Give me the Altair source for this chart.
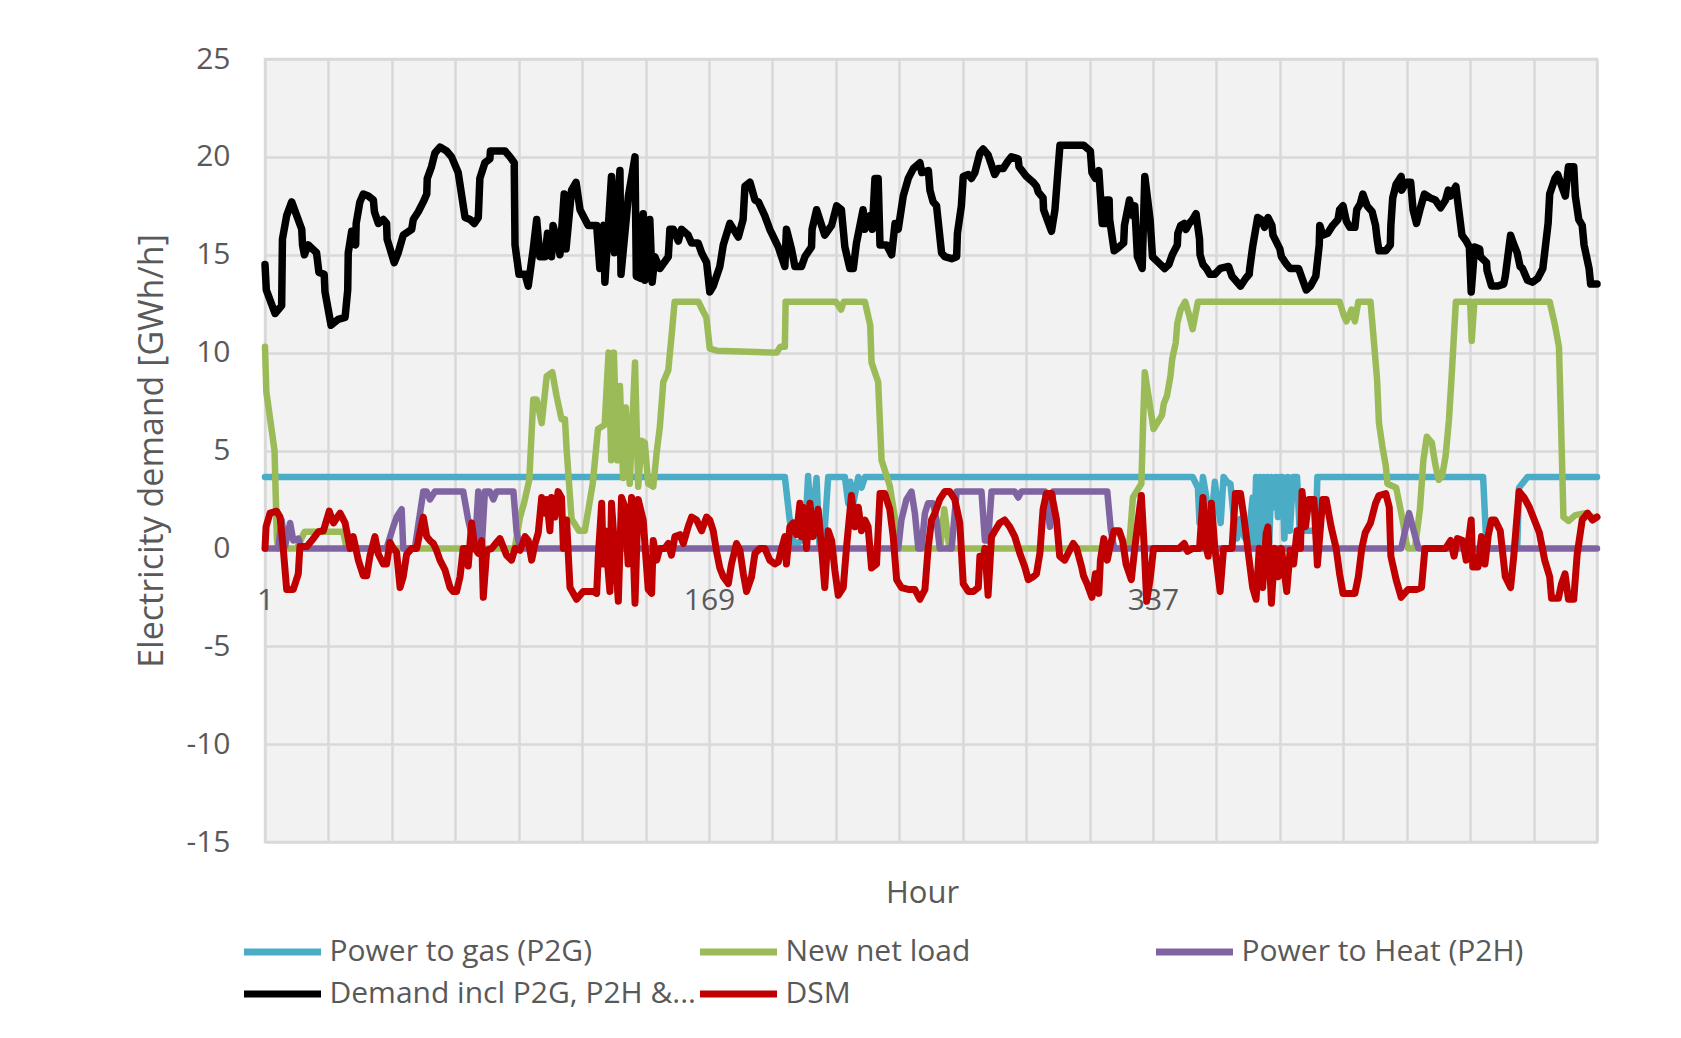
import altair as alt
import pandas as pd

SERIES = ["Power to gas (P2G)", "New net load", "Power to Heat (P2H)",
          "Demand incl P2G, P2H &...", "DSM"]
COLORS = ["#4BACC6", "#9BBB59", "#8064A2", "#000000", "#C00000"]
WIDTHS = [6.5, 6.5, 6.5, 7.5, 7]

X_GRID = list(range(1, 506, 24))
X_LABELED = [1, 169, 337]
Y_TICKS = list(range(-15, 26, 5))

# (hour, GWh/h) points
p2g_pts = [(1,3.65),(197.7,3.65),(199.5,1.5),(200.9,0.3),(203,0.3),(205.3,0.6),(206.5,3.7),(207.8,0.9),
(209.7,3.6),(210.8,0.1),(212.8,1.0),(214.1,3.65),(220.4,3.65),(221.7,2.3),(222.5,3.4),(223.6,2.3),
(225.5,3.65),(226.7,3.1),(228,3.65),(352,3.65),(354,3.1),(354.6,1.3),(355.9,3.65),(357.2,2.6),
(358.5,0.5),(360.4,3.4),(361.7,2.0),(362.6,1.3),(363.7,3.65),(365,3.4),(366.3,3.3),(367.6,1.5),
(368.8,0.5),(370,1.5),(371.5,0.6),(373,0.3),(374.7,2.6),(375.3,0),(376,3.65),(376.7,0),(377.4,3.65),
(378,0.3),(378.8,3.65),(379.5,0.2),(380.3,3.65),(381,0.3),(381.8,3.65),(382.8,2.1),(383.5,3.65),
(384.3,1.6),(385,3.65),(386,3.65),(386.7,0.5),(388,3.65),(388.8,0.9),(390,3.65),(391.5,3.65),
(392.5,0.9),(398.6,0.9),(399.2,3.65),(461.9,3.65),(463.2,0),(474.8,0),(475.5,3.1),(478.7,3.65),(505,3.65)]

netload_pts = [(1,10.3),(1.5,8.0),(4.6,5.0),(5.5,0.5),(6,0),(13,0),(16,0.85),(30.6,0.85),(31.9,0),
(95.5,0),(97.5,1.6),(99,2.3),(101,3.5),(102.5,7.6),(103.8,7.6),(105.7,6.4),(107.6,8.8),(109.7,9.0),
(111.3,7.8),(113.2,6.6),(114.5,6.6),(115.1,5.1),(117,1.5),(119.8,0.9),(122,0.9),(125,3.3),(127,6.1),
(129.5,6.3),(131,10.0),(132,4.5),(133,10.0),(134.3,4.5),(135.3,8.3),(136.5,3.6),(137.5,7.2),(139,3.3),
(141,9.5),(142.2,3.15),(143.5,5.5),(144.7,5.4),(146,3.3),(147.9,3.15),(149.2,4.9),(150.4,6.2),
(151.7,8.5),(153.6,9.1),(154,9.7),(154.8,10.8),(156,12.6),(165,12.6),(166.8,12.1),(168,11.8),
(169.3,10.2),(172,10.1),(194.6,10.0),(196,10.3),(197.7,10.3),(198,12.6),(217,12.6),(219,12.2),
(220,12.6),(228,12.6),(230,11.4),(230.5,9.5),(233,8.5),(234.3,4.5),(237.4,3.2),(239.3,1.6),(240.6,0),
(256.5,0),(258,2.0),(260,0),(327.5,0),(328.1,0.3),(329.4,2.6),(332.6,3.3),(333.3,6.6),(333.9,9.0),
(337.2,6.1),(340.4,6.8),(341.1,7.4),(342.3,7.8),(343.6,8.8),(344.3,9.7),(345.6,10.5),(346.2,11.5),
(347.5,12.2),(349.2,12.6),(350.7,11.9),(352,11.2),(354,12.6),(407.6,12.6),(409.2,11.9),(410.2,11.6),
(412.1,12.2),(413.4,11.6),(414.7,12.6),(419.3,12.6),(420.5,10.7),(421.8,8.6),(422.5,6.4),(423.8,5.2),
(425.1,4.2),(425.7,3.3),(429,3.1),(430.2,2.3),(431.5,1.4),(432.8,0.3),(433.5,0),(436.1,0),(438,2.0),
(439.3,4.5),(440.6,5.7),(442.5,5.4),(443.8,4.3),(445.1,3.5),(446.4,3.7),(447.7,4.7),(449,6.6),
(450,8.8),(451.6,12.6),(457,12.6),(457.6,10.6),(458.6,12.6),(487.1,12.6),(489.1,11.4),(490.6,10.3),
(491.2,7.4),(492.3,1.6),(494.2,1.4),(496.8,1.7),(500.7,1.8),(503.3,1.6),(505,1.6)]

p2h_pts = [(1,0),(6,0),(7.3,1.45),(8.6,0.1),(10.5,1.3),(11.7,0.4),(13.6,0.5),(14.9,0),(47,0),
(49.5,1.1),(50.8,1.6),(52.7,2.0),(53.3,0),(57.7,0),(59,1.2),(60.9,2.9),(62.2,2.9),(63.4,2.5),
(65.3,2.9),(76,2.9),(77.9,1.45),(80.4,0),(81.7,2.9),(83,0),(84.2,2.9),(86.1,2.9),(87.4,2.5),
(88.6,2.9),(95,2.9),(96.2,0.85),(97.5,0),(240.6,0),(241.8,1.45),(243.7,2.5),(245.6,2.9),(246.9,1.8),
(248.2,0),(249.4,0),(250.7,1.8),(251.9,2.3),(253.8,2.3),(255.1,1.45),(256.3,0),(260.8,0),(262.7,2.9),
(272.1,2.9),(273.4,0.4),(274.6,0.4),(275.9,2.9),(284.7,2.9),(286,2.6),(287.2,2.9),(296.1,2.9),
(298,1.1),(299.2,2.9),(319.7,2.9),(321,1.0),(322.3,0),(430.9,0),(433.9,1.8),(437.4,0),(505,0)]

demand_pts = [(1,14.5),(1.5,13.2),(4.8,12.0),(7.3,12.4),(7.6,15.8),(9.2,17.0),(11.1,17.7),(14.9,16.3),
(15.2,15.5),(15.9,15.0),(17.4,15.5),(20.5,15.1),(21.4,14.1),(23.4,14.0),(23.7,13.1),(26,11.4),
(28.7,11.7),(31.3,11.8),(32.3,13.2),(32.5,15.1),(33.8,16.2),(35.3,15.5),(35.5,16.6),(36.9,17.7),
(38.2,18.1),(40.1,18.0),(42,17.8),(42.4,17.2),(43.9,16.6),(45.8,16.8),(47,16.6),(47.2,15.8),
(49.9,14.6),(51.4,15.1),(53.3,16.0),(56.5,16.3),(57.1,16.8),(59,17.2),(60.9,17.7),(62.2,18.1),
(62.4,18.9),(64,19.5),(65.3,20.2),(67.2,20.5),(69.7,20.3),(71.6,20.0),(74.1,19.2),(76.7,16.9),
(78.6,16.8),(80.2,16.6),(81.7,16.9),(82.3,18.9),(84.2,19.7),(86.1,19.9),(86.3,20.3),(91.8,20.3),
(93.7,20.0),(95.3,19.7),(95.6,15.5),(97.1,14.0),(99.4,14.0),(100.6,13.4),(102.5,15.3),(103.8,16.8),
(105,14.9),(106.9,14.9),(107.9,16.1),(109.4,14.9),(110,16.5),(111.3,15.8),(112.6,15.0),(114.2,18.1),
(114.9,15.3),(117,18.3),(118.7,18.7),(120.2,17.3),(123.3,16.5),(126.5,16.5),(127.7,14.3),(129.2,16.5),
(129.6,13.6),(132.1,19.0),(133.2,15.1),(135.3,19.3),(135.7,14.0),(138.5,18.0),(141,20.0),(141.5,13.9),
(143,13.8),(144.1,17.1),(144.7,13.7),(146.6,16.8),(147.5,13.6),(148.5,14.9),(150.4,14.3),(153.6,14.9),
(154.2,16.3),(155.5,16.3),(157.4,15.7),(158.6,16.3),(161.1,16.0),(162.4,15.6),(164.9,15.6),
(166.2,15.1),(168.1,14.6),(169.3,13.1),(170.6,13.4),(173.1,14.4),(174.4,15.5),(176.9,16.6),
(180.1,15.9),(181.9,16.8),(182.6,18.5),(184.5,18.7),(186.4,17.8),(187.7,17.7),(190.1,17.0),(192,16.3),
(195.2,15.4),(197.7,14.4),(198.3,16.3),(200.2,15.3),(201.5,14.4),(204,14.4),(205.3,14.9),(207.8,15.4),
(208,16.3),(209.7,17.3),(212.8,16.0),(215.4,16.5),(217.3,17.5),(219.1,17.3),(220.4,15.4),(222.3,14.3),
(223.6,14.3),(224.8,15.6),(227.3,17.3),(228,16.3),(229.9,17.0),(230.8,16.3),(231.8,18.9),(233,18.9),
(233.7,15.5),(236.2,15.5),(238.1,15.0),(239.4,16.6),(240.6,16.3),(242.5,18.0),(244.4,18.9),
(246.3,19.4),(248.8,19.7),(249.5,19.2),(252,19.3),(252.6,18.3),(253.8,17.7),(255.1,17.5),(257,15.1),
(258.2,14.9),(260.8,14.8),(262.7,14.9),(263,16.1),(264.5,17.5),(265.2,19.0),(267.1,19.1),(268.3,18.9),
(269.6,19.2),(271.5,20.2),(272.7,20.4),(274.6,20.1),(277.1,19.1),(278.4,19.4),(280.3,19.4),
(282.2,19.8),(283.4,20.0),(286,19.9),(286.3,19.5),(289.1,19.0),(291.7,18.7),(292.9,18.5),(293.6,18.2),
(295.4,17.9),(295.6,17.3),(298.6,16.2),(299.9,17.3),(301.1,19.4),(301.8,20.6),(308.7,20.6),
(310.7,20.6),(313.3,20.3),(313.9,19.2),(315.2,18.9),(316.5,19.3),(317.8,16.6),(319.1,16.6),
(319.3,17.8),(320.4,17.8),(320.6,16.8),(322.3,15.2),(324.2,15.4),(325.9,15.6),(326.2,16.5),
(328.1,17.8),(329.4,17.0),(330.1,17.5),(331.1,14.9),(332.9,14.3),(333.9,19.0),(335.9,16.8),
(336.8,14.9),(339.1,14.6),(341.4,14.3),(343,14.5),(344.3,15.0),(346.2,15.5),(346.4,16.1),(347.5,16.5),
(348.8,16.6),(349.5,16.3),(350.7,16.6),(352,16.8),(353.3,17.1),(354.6,15.8),(354.8,15.0),(355.9,14.5),
(357.2,14.3),(358.5,14.0),(360.4,14.0),(362.4,14.3),(365.6,14.4),(366.9,13.9),(368.2,13.7),
(370.1,13.4),(372.1,13.8),(373.4,14.0),(373.6,14.3),(374.7,15.4),(376.6,16.9),(377.9,16.8),
(379.2,16.4),(380.5,16.9),(382,16.5),(382.4,16.0),(385,15.3),(385.6,14.9),(387.6,14.5),(388.9,14.3),
(392.1,14.3),(393.4,13.8),(395,13.2),(396.6,13.4),(398.6,13.9),(399.9,15.5),(400.1,16.5),(401.2,16.0),
(403.1,16.1),(405,16.5),(407,16.8),(407.6,17.3),(408.9,17.5),(410.2,16.7),(411.5,16.4),(413.4,16.4),
(414.1,17.3),(415.4,17.6),(416.4,18.1),(418,17.5),(419.9,17.2),(421.2,16.5),(421.8,15.8),(422.5,15.2),
(425.1,15.2),(426.8,15.5),(427,16.5),(427.7,17.9),(429,18.6),(430.9,19.0),(431.1,18.3),(432.8,18.7),
(434.5,18.7),(435.4,17.3),(436.7,16.6),(438,17.3),(439.7,18.1),(441.9,17.9),(443.8,17.8),(445.8,17.4),
(447.7,17.8),(448.7,18.3),(449.6,18.0),(451.6,18.5),(452.6,17.4),(453.9,16.0),(455.5,15.7),
(456.7,15.4),(457.4,13.1),(458.7,15.4),(460.6,15.3),(460.9,14.9),(463.2,14.6),(463.4,14.2),
(465.1,13.4),(467.3,13.4),(469.7,13.5),(470.3,13.9),(472.3,16.0),(473.3,15.6),(474.8,15.1),
(475.9,14.4),(476.8,14.3),(478.7,13.7),(480.7,13.6),(482.6,13.8),(484.5,14.3),(485.2,15.1),
(486.5,16.6),(487.1,18.1),(489.1,18.9),(490.1,19.1),(493,18.0),(494.2,19.5),(496.2,19.5),(496.8,18.0),
(498.1,16.8),(499.4,16.5),(500.1,15.5),(502,14.3),(502.6,13.5),(505,13.5)]

dsm_pts = [(1,0),(1.4,1.1),(2.9,1.8),(5.4,1.9),(6.7,1.6),(7.9,0),(9.2,-2.1),(11.7,-2.1),(13.6,-1.3),
(14.2,0.1),(16.8,0.1),(18.7,0.4),(21.2,0.85),(23.1,0.9),(25.3,1.9),(26.9,1.3),(29.4,1.8),(31.3,1.3),
(33.2,0),(34.4,0.6),(36.3,-0.6),(38.2,-1.4),(39.5,-1.4),(40.7,-0.4),(42.6,0.6),(43.9,-0.3),(45.8,-0.8),
(47,-0.8),(48.3,0.3),(49.5,0),(50.8,-0.2),(52.1,-2.0),(53.3,-1.45),(54.6,-0.3),(56.5,0),(58.4,0),
(59.6,0.8),(60.9,1.6),(62.2,0.6),(63.4,0.4),(64.7,0.25),(65.9,-0.1),(67.2,-0.6),(69.1,-1.1),(71,-2.0),
(72.2,-2.2),(73.5,-2.2),(74.8,-1.45),(76,0),(77.3,0),(77.9,-0.9),(79.2,1.3),(80.4,0),(81.7,-0.25),
(83,0.4),(83.6,-2.5),(84.9,-0.1),(86.8,0),(88.6,0.3),(89.9,0.5),(92.4,-0.35),(94.3,-0.6),(95.6,0),
(97.5,-0.1),(99.4,0.6),(100.6,0.4),(101.9,-0.6),(103.1,0.2),(104.4,0.8),(105.7,2.6),(106.9,1.8),
(107.6,2.5),(108.8,0.9),(109.4,2.6),(110.7,1.6),(111.9,2.9),(113.2,2.6),(113.9,0),(115.1,1.45),
(116.4,-2.0),(118.9,-2.6),(121.4,-2.2),(125.2,-2.2),(126.5,-2.3),(127.1,-0.4),(128.4,2.3),(129,-0.8),
(129.6,0.9),(131.5,-2.2),(132.1,2.3),(134.7,-2.7),(135.9,2.6),(137.2,2.1),(138.4,-0.8),(139.7,2.6),
(141,-2.8),(142.2,2.5),(144.1,1.45),(146,-2.1),(147.3,-2.3),(147.9,0.4),(149.2,-0.6),(150.4,0),
(152.3,0),(153.6,0.25),(154.8,-0.35),(156.1,0.6),(158,0.7),(159.3,0.25),(161.1,1.1),(162.4,1.6),
(164.3,1.45),(166.2,0.9),(168.1,1.6),(169.3,1.45),(170.6,0.9),(171.9,-0.2),(173.1,-1.0),(174.4,-1.45),
(176.3,-1.8),(177.5,-0.8),(179.4,0.25),(180.7,-0.1),(182,-1.3),(183.2,-2.2),(185.1,-1.45),
(186.4,-0.25),(188.3,0),(190.1,0),(192,-0.6),(193.9,-0.8),(195.2,-0.7),(196.5,0),(197.7,0.6),
(198.3,-0.8),(199.6,1.1),(200.9,1.3),(202.1,0.7),(203.4,2.3),(204,0.6),(204.6,2.1),(205.9,0),
(207.2,2.3),(208.4,0.6),(210.3,2.0),(211.6,0),(212.8,-2.0),(214.1,0.9),(215.4,0.4),(216.6,-1.1),
(217.9,-2.4),(219.8,-2.0),(221,0),(222.9,2.7),(224.2,1.1),(225.5,2.1),(226.7,0.9),(228,1.45),
(229.2,1.1),(230.5,-1.0),(232.4,-0.8),(233.7,2.8),(235.5,2.8),(237.4,2.0),(238.7,0.6),(240,-1.6),
(241.8,-2.0),(244.4,-2.1),(246.9,-2.1),(248.8,-2.6),(250.7,-2.1),(251.9,0),(253.2,1.45),(254.5,1.8),
(256.3,2.5),(258.2,2.9),(260.1,2.9),(262,2.5),(263.9,1.3),(265.2,-1.8),(267.1,-2.2),(269,-2.2),
(270.9,-2.0),(271.5,-0.4),(272.7,-0.6),(273.4,0),(274.6,-2.4),(275.9,0.6),(277.2,0.9),(279,1.3),
(280.9,1.45),(282.8,1.1),(284.7,0.6),(286.6,-0.25),(288.5,-0.95),(289.8,-1.6),(291.7,-1.45),
(292.9,-1.3),(294.2,-0.25),(295.4,2.0),(296.7,2.8),(298.6,2.8),(300.5,1.45),(301.7,-0.4),(303.6,-0.6),
(304.9,-0.25),(306.8,0.25),(308.1,0),(310,-0.95),(310.7,-1.4),(312,-1.8),(313.9,-2.5),(315.2,-1.3),
(316.5,-2.3),(317.1,-0.6),(318.4,0.5),(319.7,-0.6),(321,0.25),(322.3,0.9),(324.2,0.9),(325.5,0.4),
(326.8,-0.8),(328.8,-1.6),(330.1,0),(331.4,1.45),(332.6,2.7),(333.7,0),(334.6,-2.7),(335.9,-1.6),
(337.2,0),(346.9,0),(348.8,0.25),(350.1,-0.15),(352,0),(354.6,0),(355.9,2.6),(357.2,0),(357.9,-0.4),
(359.1,2.3),(360.4,0),(362.4,-2.2),(363.7,0),(366.9,0),(368.2,2.8),(370.1,2.8),(371.4,1.6),
(373.4,-0.6),(374.7,-2.0),(376,-2.6),(377.2,0),(378.5,-2.0),(379.8,0.75),(380.5,1.1),(381.8,-2.8),
(383.1,0),(384.4,-1.45),(385.6,0),(387.6,-2.2),(388.9,-0.1),(390.2,-0.8),(391.5,0.9),(392.8,0),
(393.4,2.9),(394.7,1.1),(396,2.5),(397.9,2.5),(399.2,-0.85),(401.2,2.5),(402.5,2.5),(404.4,1.1),
(406.3,0),(407.6,-1.3),(408.9,-2.3),(413.4,-2.3),(414.7,-1.45),(416,0),(417.3,0.8),(419.3,1.3),
(421.2,2.3),(422.5,2.7),(425.1,2.8),(426.4,2.1),(427,-0.4),(429,-1.6),(430.9,-2.5),(433.5,-2.1),
(436.7,-2.1),(438.6,-2.0),(439.9,0),(447.7,0),(449.6,0.4),(450.9,-0.4),(452.2,0.5),(454.2,0.4),
(455.5,-0.6),(457.4,1.45),(458,-0.95),(460,-0.95),(461.3,0.6),(462.6,-0.8),(463.9,0.7),(465.1,1.45),
(466.4,1.45),(468.4,0.9),(470.3,-1.45),(472.3,-2.0),(473.5,-0.4),(475.5,2.9),(477.4,2.6),(479.4,2.1),
(481.3,1.45),(483.2,0.8),(485.2,-0.6),(487.1,-1.45),(487.8,-2.55),(490.4,-2.55),(491.6,-1.8),
(492.9,-1.3),(494.2,-2.6),(496.2,-2.6),(497.5,-0.3),(499.4,1.45),(501.4,1.8),(503.3,1.45),(505,1.6)]

ALL_PTS = [p2g_pts, netload_pts, p2h_pts, demand_pts, dsm_pts]

rows = []
for name, pts in zip(SERIES, ALL_PTS):
    for i, (h, v) in enumerate(pts):
        rows.append({"series": name, "hour": h, "value": v, "i": i})
df = pd.DataFrame(rows)

FONT = "Open Sans"
TXT = "#595959"
GRID = "#D9D9D9"

x_enc = alt.X(
    "hour:Q",
    scale=alt.Scale(domain=[1, 505], nice=False, zero=False),
    axis=alt.Axis(
        values=X_GRID,
        labelExpr="(datum.value == 1 || datum.value == 169 || datum.value == 337) ? datum.value + '' : ''",
        grid=True, gridColor=GRID, gridWidth=2.5,
        domain=False, ticks=False,
        labelPadding=-257, labelFlush=False, labelOverlap=False,
        labelFont=FONT, labelFontSize=30, labelColor=TXT,
        title="Hour", titleFont=FONT, titleFontSize=31, titleFontWeight="normal",
        titleColor=TXT, titleX=657, titleY=51, titleBaseline="middle",
    ),
)
y_enc = alt.Y(
    "value:Q",
    scale=alt.Scale(domain=[-15, 25], nice=False, zero=False),
    axis=alt.Axis(
        values=Y_TICKS,
        labelExpr="datum.value + ''",
        grid=True, gridColor=GRID, gridWidth=2.5,
        domain=False, ticks=False, labelPadding=35,
        labelFont=FONT, labelFontSize=30, labelColor=TXT,
        title="Electricity demand [GWh/h]", titleFont=FONT, titleFontSize=34,
        titleFontWeight="normal", titleColor=TXT, titleX=-113, titleBaseline="middle",
        titleAngle=270,
    ),
)
color_enc = alt.Color(
    "series:N",
    scale=alt.Scale(domain=SERIES, range=COLORS),
    legend=alt.Legend(
        orient="none", legendX=-21, legendY=878, direction="horizontal", columns=3,
        title=None, symbolType="M-3.5,0H3.5", symbolSize=484, symbolStrokeWidth=7,
        symbolOffset=23.5, labelOffset=32, labelFont=FONT, labelFontSize=30,
        labelColor=TXT, rowPadding=12, columnPadding=-10, gridAlign="all",
        labelLimit=400, padding=0,
    ),
)

layers = []
for name, w in zip(SERIES, WIDTHS):
    layers.append(
        alt.Chart(df)
        .transform_filter(alt.datum.series == name)
        .mark_line(strokeWidth=w, strokeCap="round", strokeJoin="round")
        .encode(x=x_enc, y=y_enc, color=color_enc, order=alt.Order("i:Q"))
    )

chart = (
    alt.layer(*layers)
    .properties(
        width=1332, height=783,
        autosize=alt.AutoSizeParams(type="none"),
        padding={"left": 257, "top": 51, "right": 76, "bottom": 188},
        background="white",
    )
    .configure_view(fill="#F2F2F2", stroke=GRID, strokeWidth=2.5)
)

chart.save("out.html", embed_options={"renderer": "svg", "actions": False})
